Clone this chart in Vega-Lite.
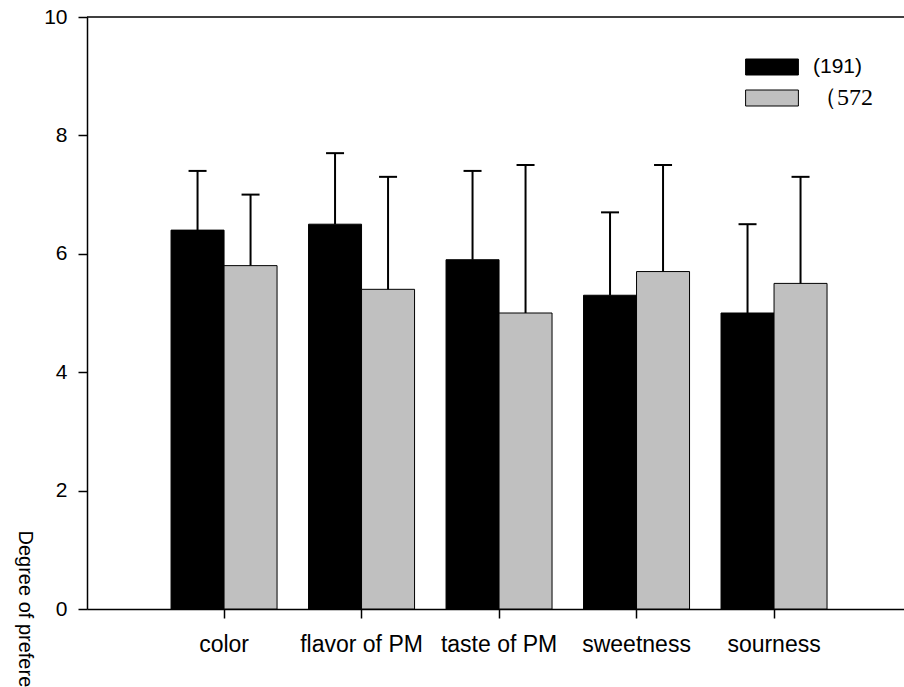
{
  "$schema": "https://vega.github.io/schema/vega-lite/v6.json",
  "width": 817,
  "height": 592,
  "autosize": {"type": "none"},
  "padding": {"left": 87, "top": 17, "right": 0, "bottom": 78},
  "background": "white",
  "config": {
    "view": {"stroke": null},
    "font": "Liberation Sans",
    "axis": {
      "domainColor": "#000",
      "domainWidth": 1.5,
      "tickColor": "#000",
      "tickWidth": 1.5,
      "tickSize": 9,
      "labelColor": "#000",
      "grid": false
    },
    "axisX": {"labelFontSize": 23, "labelPadding": 15, "labelAngle": 0},
    "axisY": {"labelFontSize": 21, "labelPadding": 11}
  },
  "data": {
    "values": [
      {"attr": "color", "group": "(191)", "mean": 6.4, "upper": 7.4},
      {"attr": "color", "group": "（572", "mean": 5.8, "upper": 7.0},
      {"attr": "flavor of PM", "group": "(191)", "mean": 6.5, "upper": 7.7},
      {"attr": "flavor of PM", "group": "（572", "mean": 5.4, "upper": 7.3},
      {"attr": "taste of PM", "group": "(191)", "mean": 5.9, "upper": 7.4},
      {"attr": "taste of PM", "group": "（572", "mean": 5.0, "upper": 7.5},
      {"attr": "sweetness", "group": "(191)", "mean": 5.3, "upper": 6.7},
      {"attr": "sweetness", "group": "（572", "mean": 5.7, "upper": 7.5},
      {"attr": "sourness", "group": "(191)", "mean": 5.0, "upper": 6.5},
      {"attr": "sourness", "group": "（572", "mean": 5.5, "upper": 7.3}
    ]
  },
  "layer": [
    {
      "mark": {"type": "bar", "stroke": "#000", "strokeWidth": 1},
      "encoding": {
        "x": {
          "field": "attr", "type": "nominal",
          "sort": ["color", "flavor of PM", "taste of PM", "sweetness", "sourness"],
          "scale": {"paddingInner": 0.229, "paddingOuter": 0.5855, "align": 0.522},
          "axis": {"title": null, "labelAngle": 0, "labelFontSize": 23, "labelPadding": 15}
        },
        "xOffset": {
          "field": "group", "type": "nominal", "sort": ["(191)", "（572"],
          "scale": {"paddingInner": 0, "paddingOuter": 0}
        },
        "y": {
          "field": "mean", "type": "quantitative",
          "scale": {"domain": [0, 10], "nice": false},
          "axis": {
            "values": [0, 2, 4, 6, 8, 10], "format": "d", "labelFontSize": 21, "labelPadding": 11,
            "title": "Degree of preference", "titleFontSize": 20, "titleFontWeight": "normal",
            "titleColor": "#000", "titleAngle": 90, "titleAlign": "left", "titleBaseline": "middle",
            "titleX": -63, "titleY": 513
          }
        },
        "color": {
          "field": "group", "type": "nominal", "sort": ["(191)", "（572"],
          "scale": {"domain": ["(191)", "（572"], "range": ["#000000", "#c0c0c0"]},
          "legend": {
            "orient": "none", "legendX": 673, "legendY": 38, "title": null,
            "symbolType": "M-3.3,-1H3.3V1H-3.3Z", "symbolSize": 256,
            "symbolStrokeColor": "#000", "symbolStrokeWidth": 1, "symbolOpacity": 1,
            "labelFontSize": {"expr": "datum.value == '(191)' ? 21 : 24"},
            "labelOffset": 29, "rowPadding": 9, "padding": 0,
            "labelColor": "#000",
            "labelFont": {"expr": "datum.value == '(191)' ? 'Liberation Sans' : 'Liberation Serif'"}
          }
        }
      }
    },
    {
      "mark": {"type": "rule", "color": "#000", "strokeWidth": 2},
      "encoding": {
        "x": {"field": "attr", "type": "nominal", "sort": ["color", "flavor of PM", "taste of PM", "sweetness", "sourness"]},
        "xOffset": {"field": "group", "type": "nominal", "sort": ["(191)", "（572"]},
        "y": {"field": "mean", "type": "quantitative"},
        "y2": {"field": "upper"}
      }
    },
    {
      "mark": {"type": "tick", "orient": "horizontal", "size": 18, "thickness": 2, "color": "#000", "opacity": 1},
      "encoding": {
        "x": {"field": "attr", "type": "nominal", "sort": ["color", "flavor of PM", "taste of PM", "sweetness", "sourness"]},
        "xOffset": {"field": "group", "type": "nominal", "sort": ["(191)", "（572"]},
        "y": {"field": "upper", "type": "quantitative"}
      }
    },
    {
      "data": {"values": [{}]},
      "mark": {"type": "rule", "color": "#000", "strokeWidth": 1.5},
      "encoding": {"y": {"datum": 10, "type": "quantitative"}}
    }
  ]
}
